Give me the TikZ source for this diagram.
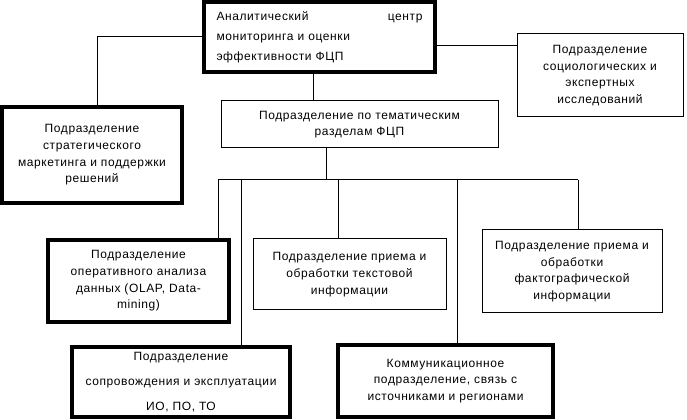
\documentclass[tikz,border=0pt]{standalone}
\usepackage{fontspec}
\setmainfont{Liberation Sans}[LetterSpace=5]
\usepackage{tikz}

\begin{document}
\begin{tikzpicture}[x=0.75pt,y=0.75pt,yscale=-1,xscale=1,
  every node/.style={font=\fontsize{9}{12.5}\selectfont, inner sep=0pt, align=center},
  thickbox/.style={draw, line width=3pt},
  thinbox/.style={draw, line width=0.75pt},
  link/.style={line width=0.75pt}]
\useasboundingbox (0,0) rectangle (687,420);
% Boxes
\node [thickbox, minimum width=173.25pt, minimum height=52.5pt, text width=154.5pt, align=left] (centr) at (319.5,37)
  {Аналитический\hfill центр\\[2.5pt] мониторинга и оценки\\[2.5pt] эффективности ФЦП};
\node [thickbox, minimum width=135pt, minimum height=72pt] (strat) at (92,155)
  {Подразделение\\ стратегического\\ маркетинга и поддержки\\ решений};
\node [thinbox, minimum width=124.5pt, minimum height=62.25pt] (socio) at (600,75.5)
  {Подразделение\\ социологических и\\ экспертных\\ исследований};
\node [thinbox, minimum width=207.75pt, minimum height=35.25pt] (tema) at (359.5,124.5)
  {Подразделение по тематическим\\ разделам ФЦП};
\node [thickbox, minimum width=135.75pt, minimum height=61.5pt] (olap) at (138.5,281)
  {Подразделение\\ оперативного анализа\\ данных (OLAP, Data-\\ mining)};
\node [thinbox, minimum width=144.75pt, minimum height=53.25pt] (tekst) at (349.5,274.5)
  {Подразделение приема и\\ обработки текстовой\\ информации};
\node [thinbox, minimum width=135pt, minimum height=62.25pt] (fakt) at (572,271.5)
  {Подразделение приема и\\ обработки\\ фактографической\\ информации};
\node [thickbox, minimum width=163.5pt, minimum height=52.5pt] (sopr) at (181,382)
  {Подразделение\\[6pt] сопровождения и эксплуатации\\[6pt] ИО, ПО, ТО};
\node [thickbox, minimum width=161.25pt, minimum height=54pt] (komm) at (445.5,381)
  {Коммуникационное\\ подразделение, связь с\\ источниками и регионами};
% Bus points
\coordinate (t1) at (313,90);
\coordinate (t2) at (97,38);
\coordinate (t3) at (480,46);
\coordinate (bus) at (326,180);
\coordinate (busL) at (218,180);
\coordinate (busR) at (578,180);
\coordinate (b2) at (241,180);
\coordinate (b3) at (338,180);
\coordinate (b4) at (457,180);
% Links
\draw [link] (centr.west) -| (strat.north -| t2);
\draw [link] (centr.east |- t3) -- (socio.west |- t3);
\draw [link] (centr.south -| t1) -- (tema.north -| t1);
\draw [link] (tema.south -| bus) -- (bus);
\draw [link] (busL) -- (busR);
\draw [link] (busL) -- (olap.north -| busL);
\draw [link] (b2) -- (sopr.north -| b2);
\draw [link] (b3) -- (tekst.north -| b3);
\draw [link] (b4) -- (komm.north -| b4);
\draw [link] (busR) -- (fakt.north -| busR);
\end{tikzpicture}
\end{document}
